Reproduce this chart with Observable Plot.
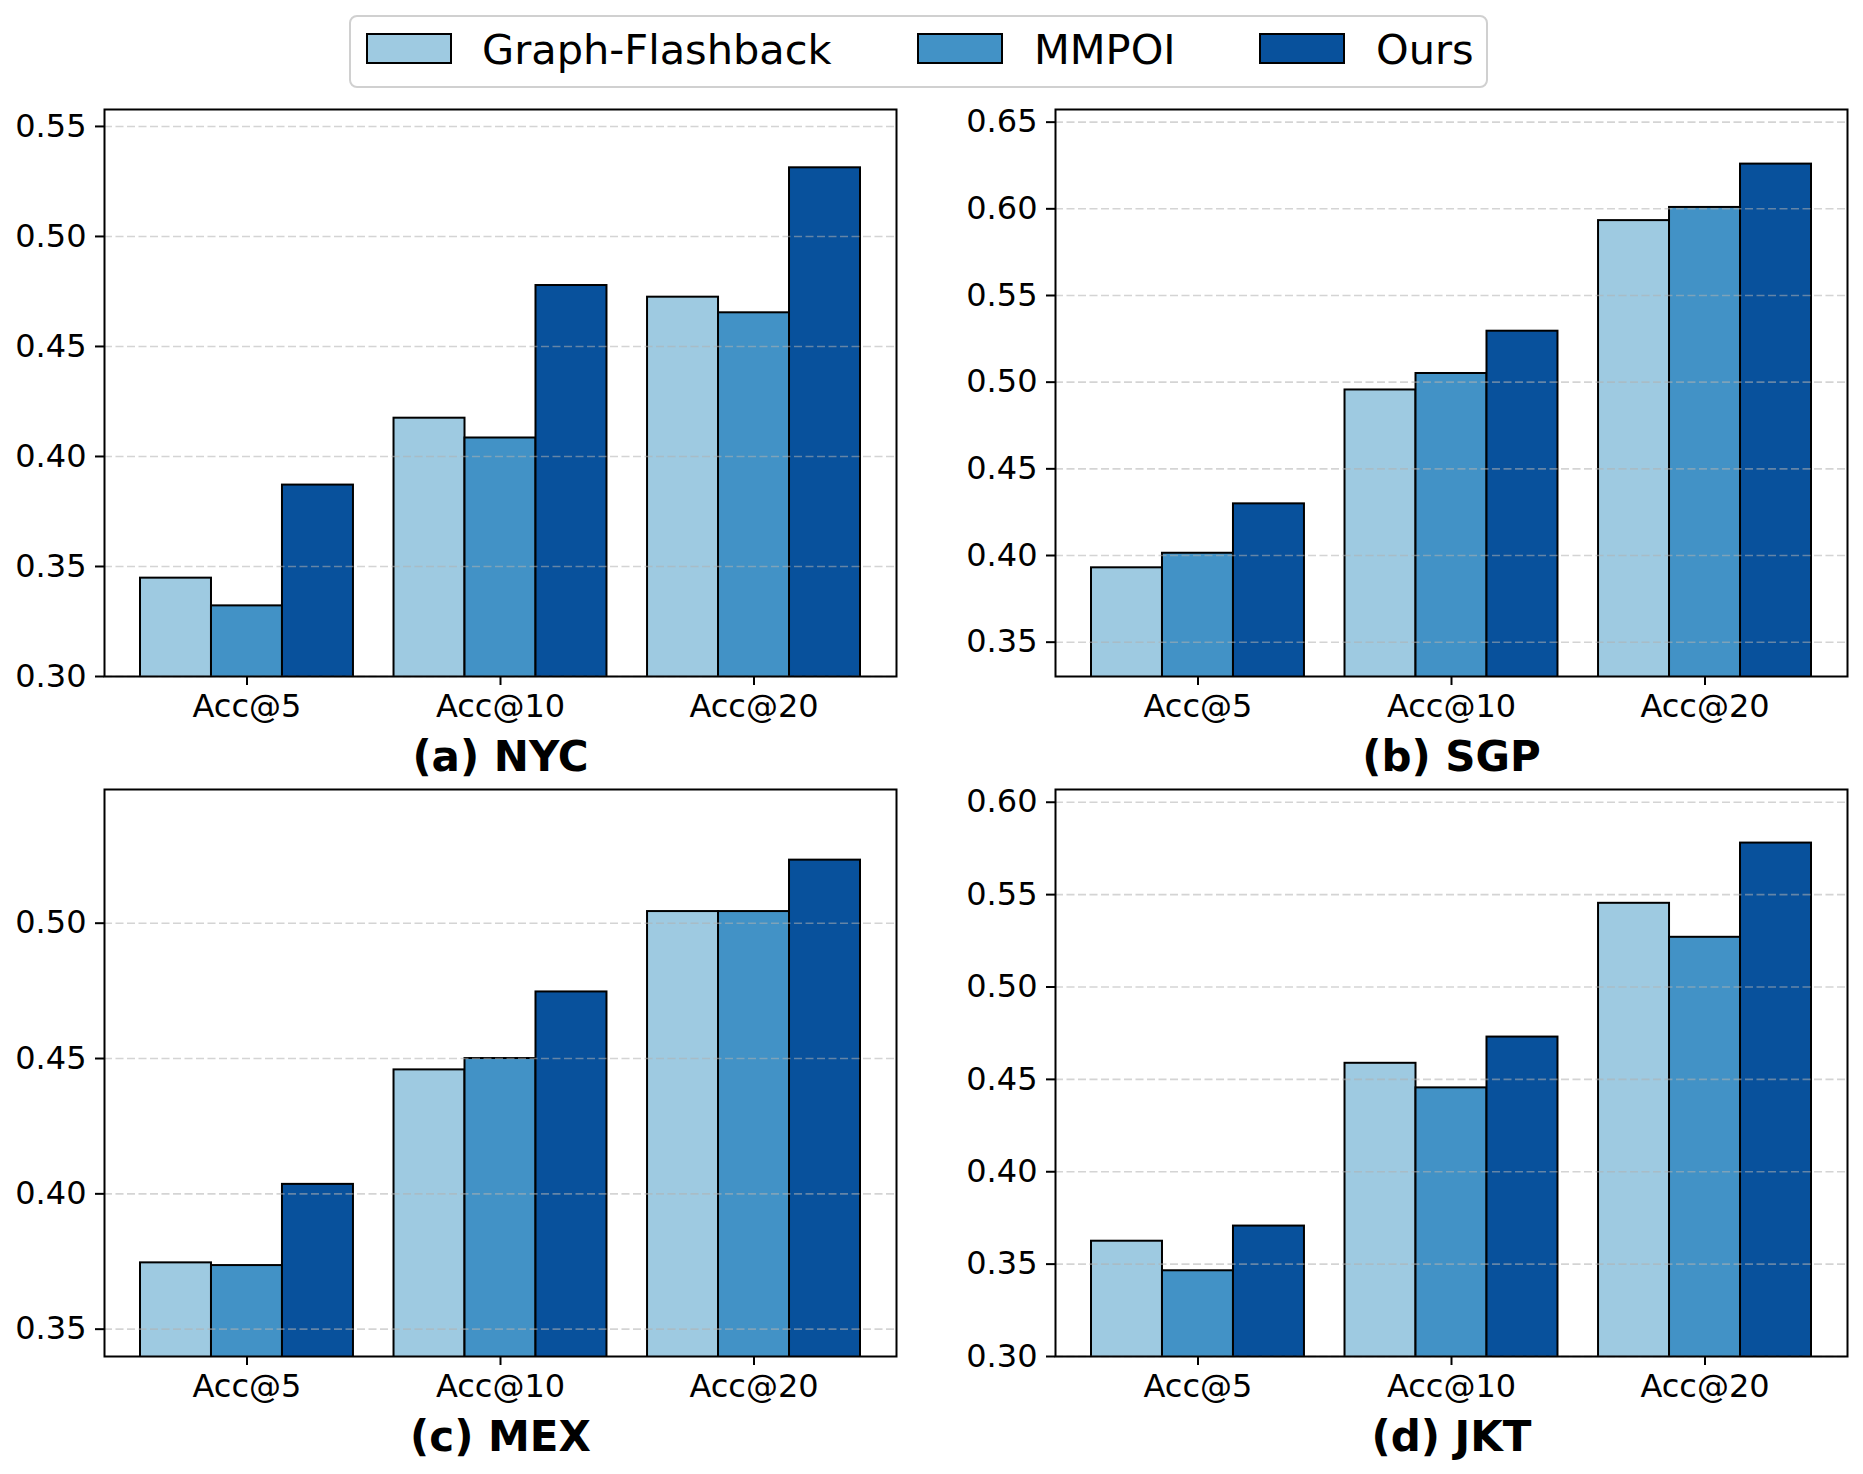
<!DOCTYPE html>
<html>
<head>
<meta charset="utf-8">
<script src="https://cdn.jsdelivr.net/npm/d3@7"></script>
<script src="https://cdn.jsdelivr.net/npm/@observablehq/plot@0.6"></script>
<style>
  html, body { margin: 0; padding: 0; background: #fff; }
  #root { position: relative; width: 1863px; height: 1474px; background: #fff; font-family: "DejaVu Sans", sans-serif; }
  .panel { position: absolute; }
  .legend { position: absolute; left: 349px; top: 15px; width: 1135px; height: 69px; border: 2px solid #d0d0d0; border-radius: 8px; box-sizing: content-box; }
  .sw { position: absolute; top: 16px; width: 82px; height: 27px; border: 2px solid #000; }
  .lt { position: absolute; top: -2px; height: 73px; line-height: 70px; font-size: 41.5px; color: #000; white-space: nowrap; }
</style>
</head>
<body>
<div id="root"></div>
<script>
// ---- data ----
const models = ["Graph-Flashback", "MMPOI", "Ours"];
const metrics = ["Acc@5", "Acc@10", "Acc@20"];
const colors = ["#9ecae1", "#4292c6", "#08519c"];

const nycGraphFlashback = [0.3447, 0.4174, 0.4724];
const nycMMPOI          = [0.3321, 0.4084, 0.4653];
const nycOurs           = [0.3870, 0.4777, 0.5312];

const sgpGraphFlashback = [0.3929, 0.4955, 0.5932];
const sgpMMPOI          = [0.4013, 0.5050, 0.6008];
const sgpOurs           = [0.4298, 0.5294, 0.6258];

const mexGraphFlashback = [0.3745, 0.4458, 0.5043];
const mexMMPOI          = [0.3735, 0.4500, 0.5043];
const mexOurs           = [0.4035, 0.4746, 0.5233];

const jktGraphFlashback = [0.3624, 0.4587, 0.5453];
const jktMMPOI          = [0.3464, 0.4454, 0.5269];
const jktOurs           = [0.3706, 0.4729, 0.5779];

const titles = ["(a) NYC", "(b) SGP", "(c) MEX", "(d) JKT"];
const yDomains = [[0.30, 0.5577], [0.3302, 0.6573], [0.3399, 0.5494], [0.30, 0.6069]];
const yTicks = [
  [0.30, 0.35, 0.40, 0.45, 0.50, 0.55],
  [0.35, 0.40, 0.45, 0.50, 0.55, 0.60, 0.65],
  [0.35, 0.40, 0.45, 0.50],
  [0.30, 0.35, 0.40, 0.45, 0.50, 0.55, 0.60]
];
const panelValues = [
  [nycGraphFlashback, nycMMPOI, nycOurs],
  [sgpGraphFlashback, sgpMMPOI, sgpOurs],
  [mexGraphFlashback, mexMMPOI, mexOurs],
  [jktGraphFlashback, jktMMPOI, jktOurs]
];

// ---- layout ----
const barWidth = 0.28;
const positions = [[0, 89], [951, 89], [0, 769], [951, 769]];
const root = document.getElementById("root");

panelValues.forEach((vals, p) => {
  const rows = [];
  vals.forEach((series, m) => series.forEach((v, g) => rows.push({g, m, model: models[m], metric: metrics[g], value: v})));
  const chart = Plot.plot({
    width: 912,
    height: 697,
    marginLeft: 104,
    marginRight: 16,
    marginTop: 20,
    marginBottom: 110,
    x: {domain: [-0.562, 2.562], axis: null},
    y: {domain: yDomains[p], axis: null},
    color: {domain: models, range: colors},
    style: {fontFamily: "DejaVu Sans", fontSize: "32px", background: "transparent", overflow: "visible", color: "#000"},
    marks: [
      Plot.rectY(rows, {
        x1: d => d.g + (d.m - 1) * barWidth - barWidth / 2,
        x2: d => d.g + (d.m - 1) * barWidth + barWidth / 2,
        y1: 0,
        y2: "value",
        fill: "model",
        stroke: "#000",
        strokeWidth: 2,
        clip: true
      }),
      Plot.gridY(yTicks[p], {stroke: "#b0b0b0", strokeOpacity: 0.55, strokeWidth: 1.6, strokeDasharray: "8,3.5"}),
      Plot.frame({stroke: "#000", strokeWidth: 2}),
      Plot.axisY(yTicks[p], {tickSize: 9, tickPadding: 9, strokeWidth: 2, tickFormat: d3.format(".2f"), fontSize: 32, fill: "#000", label: null}),
      Plot.axisX([0, 1, 2], {tickSize: 9, tickPadding: 9, strokeWidth: 2, tickFormat: i => metrics[i], fontSize: 32, fill: "#000", label: null}),
      Plot.text([titles[p]], {frameAnchor: "bottom", dy: 94, text: d => d, fontWeight: "bold", fontSize: 42, fill: "#000"})
    ]
  });
  chart.classList.add("panel");
  chart.style.left = positions[p][0] + "px";
  chart.style.top = positions[p][1] + "px";
  root.appendChild(chart);
});

// ---- legend ----
const legend = document.createElement("div");
legend.className = "legend";
const swatchX = [15, 566, 908];
const textX = [131, 683, 1025];
models.forEach((name, i) => {
  const sw = document.createElement("div");
  sw.className = "sw";
  sw.style.left = swatchX[i] + "px";
  sw.style.background = colors[i];
  legend.appendChild(sw);
  const t = document.createElement("div");
  t.className = "lt";
  t.style.left = textX[i] + "px";
  t.textContent = name;
  legend.appendChild(t);
});
root.appendChild(legend);
</script>
</body>
</html>
